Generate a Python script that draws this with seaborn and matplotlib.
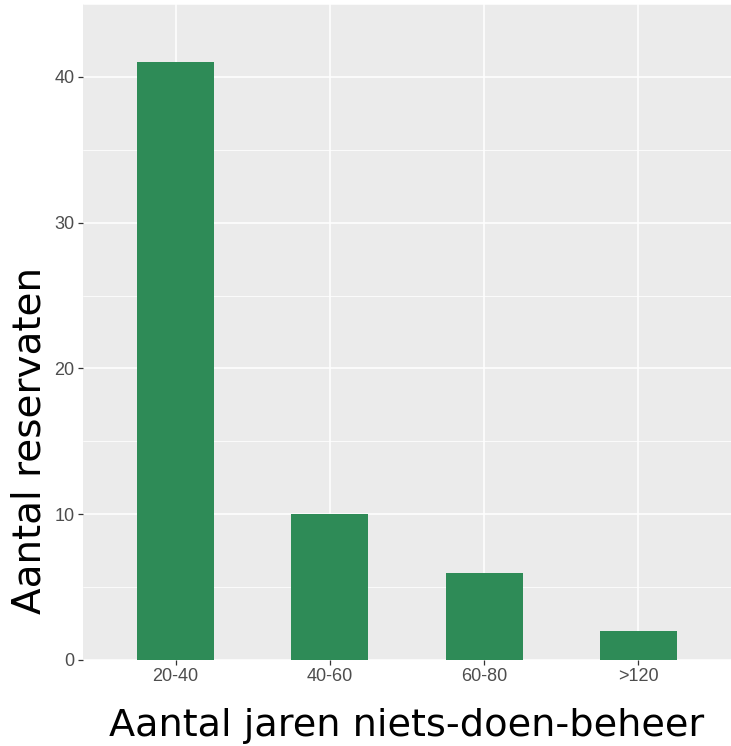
import pandas as pd
import matplotlib
matplotlib.use("Agg")
import matplotlib.pyplot as plt
from matplotlib.ticker import MultipleLocator
import seaborn as sns

categories = ["20-40", "40-60", "60-80", ">120"]
counts = [41, 10, 6, 2]

df = pd.DataFrame({"klasse": categories, "aantal": counts})

sns.set_theme(style="darkgrid", rc={
    "axes.facecolor": "#EBEBEB",
    "grid.color": "white",
    "xtick.bottom": True,
    "ytick.left": True,
})
plt.rcParams["font.family"] = ["DejaVu Sans"]

fig = plt.figure(figsize=(7.31, 7.46), dpi=100)
ax = fig.add_axes([83 / 731, 86 / 746, 648 / 731, 656 / 746])

sns.barplot(data=df, x="klasse", y="aantal", color="#2E8B57", width=0.5,
            saturation=1, linewidth=0, ax=ax, order=categories)

ax.set_xlim(-0.6, 3.6)
ax.set_ylim(0, 45)
ax.yaxis.set_major_locator(MultipleLocator(10))
ax.yaxis.set_minor_locator(MultipleLocator(5))
ax.grid(which="major", color="white", linewidth=1.1)
ax.grid(which="minor", axis="y", color="white", linewidth=0.55)
ax.set_axisbelow(True)
for s in ax.spines.values():
    s.set_visible(False)

ax.tick_params(which="major", length=3.5, width=0.9, color="#333333",
               labelcolor="#4D4D4D", labelsize=13, pad=2.5)
ax.tick_params(which="minor", length=0)
for lab in ax.get_xticklabels() + ax.get_yticklabels():
    lab.set_fontfamily(["Liberation Sans", "DejaVu Sans"])

ax.set_xlabel("Aantal jaren niets-doen-beheer", fontsize=27.5, color="black",
              labelpad=16)
ax.set_ylabel("Aantal reservaten", fontsize=28, color="black")
ax.yaxis.set_label_coords(-0.054, 0.334)

fig.savefig("out.png", dpi=100)
